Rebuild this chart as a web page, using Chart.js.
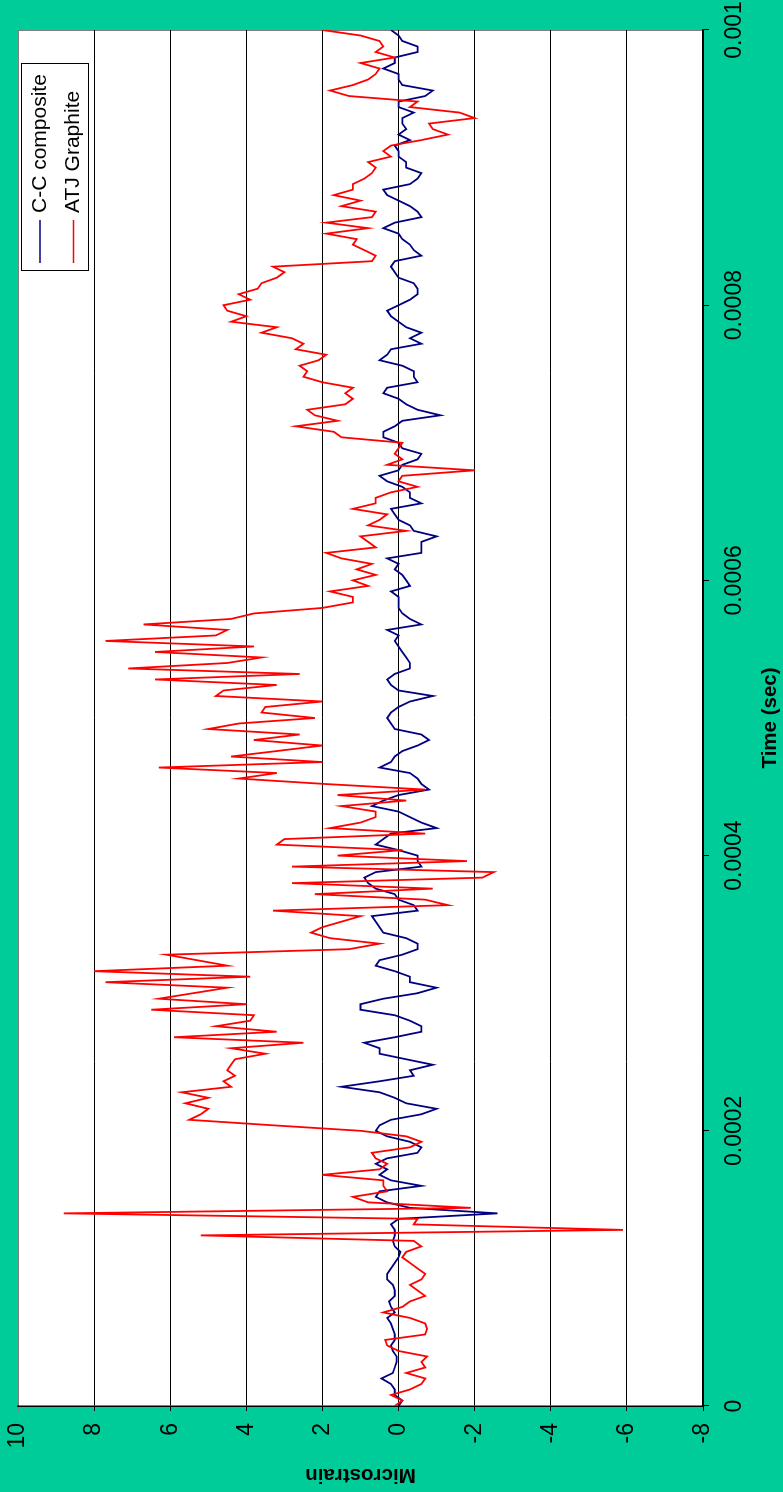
<!DOCTYPE html>
<html>
<head>
<meta charset="utf-8">
<script src="https://cdn.jsdelivr.net/npm/chart.js@4.4.1/dist/chart.umd.min.js"></script>
<style>
  html, body { margin: 0; padding: 0; overflow: hidden; background: #00cc99; width: 783px; height: 1492px; }
  /* chart is laid out landscape, then turned a quarter left like the original */
  #wrap { position: absolute; left: 0; top: 0; width: 1492px; height: 783px;
          transform-origin: 0 0; transform: translate(0, 1492px) rotate(-90deg); }
</style>
</head>
<body>
<div id="wrap"><canvas id="strainChart" width="1492" height="783"></canvas></div>
<script>
const SAMPLE_STEP = 0.000004;

const timeTicks = [0, 0.0002, 0.0004, 0.0006, 0.0008, 0.001];
const strainTicks = [-8, -6, -4, -2, 0, 2, 4, 6, 8, 10];

const ccComposite = [
  0.0, -0.1, 0.1, 0.1, 0.2, 0.45, 0.15, 0.1, 0.05, 0.05,
  0.15, 0.2, 0.1, 0.1, 0.15, 0.2, 0.3, 0.1, 0.2, 0.25,
  0.1, 0.1, 0.15, 0.3, 0.3, 0.2, 0.1, 0.0, -0.05, 0.1,
  0.15, 0.1, 0.1, 0.2, 0.0, -2.6, -0.3, 0.3, 0.6, 0.5,
  -0.6, 0.2, 0.5, 0.3, 0.6, 0.3, -0.5, -0.6, -0.3, 0.3,
  0.6, 0.5, 0.2, -0.6, -1.0, -0.2, 0.1, 0.5, 1.5, 0.5,
  -0.4, -0.3, -0.9, -0.2, 0.5, 0.5, 0.9, 0.1, -0.6, -0.6,
  -0.3, 0.1, 1.0, 1.0, 0.4, -0.5, -1.0, -0.3, -0.3, 0.1,
  0.6, 0.5, -0.1, -0.5, -0.5, -0.2, 0.4, 0.5, 0.6, 0.7,
  -0.5, -0.4, 0.0, 0.1, 0.6, 0.8, 0.9, 0.6, -0.6, -0.5,
  -0.5, 0.0, 0.6, 0.4, 0.2, -1.0, -0.6, -0.3, 0.0, 0.7,
  0.4, 0.0, -0.8, -0.6, -0.5, -0.3, 0.5, 0.2, 0.1, -0.1,
  -0.5, -0.8, -0.6, 0.1, 0.2, 0.3, 0.2, 0.0, -0.3, -0.9,
  0.0, 0.2, 0.3, 0.1, -0.3, -0.3, -0.2, -0.1, 0.0, 0.1,
  0.0, 0.3, -0.6, -0.3, -0.1, 0.0, 0.0, 0.0, 0.2, -0.3,
  -0.2, -0.1, 0.1, 0.0, 0.3, -0.6, -0.6, -0.6, -1.0, -0.4,
  -0.3, 0.0, 0.1, 0.2, -0.6, -0.3, -0.3, -0.1, 0.3, 0.5,
  0.0, -0.1, -0.5, -0.6, -0.1, 0.0, 0.4, 0.4, 0.1, -0.1,
  -1.1, -0.5, -0.2, 0.0, 0.4, 0.3, -0.5, -0.4, -0.4, -0.1,
  0.5, 0.3, 0.2, -0.6, -0.3, -0.6, -0.2, 0.0, 0.2, 0.3,
  0.0, -0.3, -0.5, -0.5, -0.4, 0.0, 0.1, 0.2, 0.1, -0.6,
  -0.4, -0.3, -0.1, 0.0, 0.4, 0.1, -0.6, -0.5, -0.3, 0.0,
  0.3, 0.4, -0.3, -0.5, -0.6, -0.2, -0.2, 0.0, 0.0, 0.1,
  -0.3, 0.0, -0.2, -0.1, -0.1, -0.4, 0.0, 0.0, -0.7, -0.9,
  -0.1, 0.0, 0.0, 0.4, 0.1, 0.1, -0.5, -0.5, -0.1, 0.0,
  0.2
];

const atjGraphite = [
  0.1, -0.1, 0.2, -0.3, -0.6, -0.7, -0.2, -0.7, -0.6, -0.75,
  0.0, 0.3, 0.35, -0.7, -0.75, -0.7, -0.3, 0.4, -0.1, -0.3,
  -0.7, -0.5, -0.3, -0.6, -0.7, -0.5, -0.3, -0.1, -0.2, -0.6,
  -0.4, 5.2, -5.9, -0.4, -0.5, 8.8, -1.9, 0.8, 1.2, 0.3,
  0.4, 0.4, 2.0, 0.5, 0.3, 0.6, 0.7, -0.3, -0.6, -0.2,
  1.0, 3.3, 5.5, 5.2, 5.0, 5.6, 5.0, 5.7, 4.4, 4.6,
  4.3, 4.5, 4.4, 4.3, 3.5, 4.4, 2.5, 5.9, 3.2, 4.8,
  3.9, 3.8, 6.5, 4.0, 6.3, 5.4, 4.5, 7.7, 3.9, 8.0,
  4.5, 5.3, 6.1, 1.3, 0.5, 1.8, 2.3, 2.0, 1.5, 1.0,
  3.3, -1.3, -0.7, 2.2, -0.9, 2.8, -2.2, -2.5, 2.8, -1.8,
  1.6, -0.1, 3.2, 3.0, -0.7, 1.8, 1.0, 0.6, 0.6, 1.5,
  -0.2, 1.6, -0.7, 1.9, 4.2, 3.2, 6.3, 2.0, 4.4, 3.2,
  2.0, 3.8, 2.6, 5.0, 4.2, 2.2, 3.6, 3.5, 2.0, 4.8,
  4.6, 3.2, 6.4, 2.6, 7.1, 4.5, 3.6, 6.4, 3.8, 7.7,
  4.8, 4.5, 6.7, 4.4, 3.8, 2.0, 1.2, 1.2, 1.8, 0.8,
  1.2, 0.6, 1.1, 0.7, 1.5, 1.9, 0.6, 0.8, 1.0, -0.2,
  0.8, 0.5, 0.3, 1.2, 0.6, 0.6, 0.2, -0.5, 0.0, -0.1,
  -2.0, 0.3, -0.1, 0.1, 0.0, -0.1, 1.5, 1.7, 2.7, 1.6,
  2.2, 2.4, 1.4, 1.2, 1.4, 1.2, 2.0, 2.5, 2.4, 2.6,
  2.1, 1.9, 2.7, 2.5, 2.8, 3.6, 3.2, 4.4, 4.0, 4.5,
  4.6, 3.9, 4.2, 3.7, 3.6, 3.2, 3.0, 3.3, 0.7, 0.6,
  0.9, 1.2, 1.1, 1.9, 0.8, 1.9, 0.7, 0.6, 1.5, 1.0,
  1.7, 1.2, 1.2, 0.9, 0.7, 0.6, 0.8, 0.2, 0.4, 0.2,
  -0.6, -1.3, -0.9, -0.8, -2.0, -1.6, -0.3, -0.5, 1.3, 1.8,
  1.2, 0.8, 0.6, 0.5, 1.0, 0.1, 0.6, 0.4, 0.5, 1.0,
  2.0
];

const toPoints = arr => arr.map((v, i) => ({ x: i * SAMPLE_STEP, y: v }));

Chart.defaults.font.family = "'Liberation Sans', Arial, sans-serif";
Chart.defaults.color = '#000';

// keep the plot box where the original has it: no extra room for label overhang
const noOverhang = s => {
  s.paddingTop = 0;
  s.paddingBottom = 0;
  s.paddingLeft = 0;
  s.paddingRight = 0;
};

// white plot area + grey frame on the far edges
const plotFrame = {
  id: 'plotFrame',
  beforeDraw(chart) {
    const { ctx, chartArea: a } = chart;
    ctx.save();
    ctx.fillStyle = '#ffffff';
    ctx.fillRect(a.left, a.top, a.right - a.left, a.bottom - a.top);
    ctx.strokeStyle = '#808080';
    ctx.lineWidth = 1;
    ctx.beginPath();
    ctx.moveTo(a.left, a.top + 0.5);
    ctx.lineTo(a.right - 0.5, a.top + 0.5);
    ctx.lineTo(a.right - 0.5, a.bottom);
    ctx.stroke();
    ctx.restore();
  }
};

// Excel-style boxed legend sitting inside the plot
const boxedLegend = {
  id: 'boxedLegend',
  afterDraw(chart) {
    const { ctx, chartArea: a } = chart;
    const x0 = a.right - 241, y0 = a.top + 3, w = 207, h = 67;
    ctx.save();
    ctx.fillStyle = '#ffffff';
    ctx.fillRect(x0, y0, w, h);
    ctx.strokeStyle = '#000';
    ctx.lineWidth = 1;
    ctx.strokeRect(x0 + 0.5, y0 + 0.5, w, h);
    ctx.font = "21px 'Liberation Sans', Arial, sans-serif";
    ctx.textBaseline = 'middle';
    const entries = [chart.data.datasets[1], chart.data.datasets[0]];
    entries.forEach((ds, k) => {
      const y = y0 + 19 + k * 33.5;
      ctx.strokeStyle = ds.borderColor;
      ctx.lineWidth = 1.5;
      ctx.beginPath();
      ctx.moveTo(x0 + 8, y);
      ctx.lineTo(x0 + 51, y);
      ctx.stroke();
      ctx.fillStyle = '#000';
      ctx.fillText(ds.label, x0 + 58, y);
    });
    ctx.restore();
  }
};

const ctx = document.getElementById('strainChart').getContext('2d');
new Chart(ctx, {
  type: 'line',
  data: {
    datasets: [
      {
        label: 'ATJ Graphite',
        data: toPoints(atjGraphite),
        borderColor: '#ff0000',
        borderWidth: 1.8,
        pointRadius: 0,
        tension: 0,
        fill: false
      },
      {
        label: 'C-C composite',
        data: toPoints(ccComposite),
        borderColor: '#000080',
        borderWidth: 1.8,
        pointRadius: 0,
        tension: 0,
        fill: false
      }
    ]
  },
  options: {
    responsive: false,
    animation: false,
    layout: { padding: { top: 18, right: 30, left: 0, bottom: 0 } },
    plugins: {
      legend: { display: false },
      tooltip: { enabled: false }
    },
    scales: {
      x: {
        type: 'linear',
        min: 0,
        max: 0.001,
        afterFit: s => { s.height = 80; noOverhang(s); },
        afterBuildTicks: s => { s.ticks = timeTicks.map(v => ({ value: v })); },
        grid: { drawOnChartArea: false, drawTicks: true, tickLength: 6, color: '#000' },
        border: { display: true, color: '#000', width: 1.5 },
        ticks: {
          font: { size: 23 },
          padding: 12,
          maxRotation: 0,
          autoSkip: false,
          callback: v => String(v)
        },
        title: {
          display: true,
          text: 'Time (sec)',
          font: { size: 20.5, weight: 'bold' },
          padding: { top: 0, bottom: 0 }
        }
      },
      y: {
        min: -8,
        max: 10,
        afterFit: s => { s.width = 86; noOverhang(s); },
        afterBuildTicks: s => { s.ticks = strainTicks.map(v => ({ value: v })); },
        grid: {
          color: c => (c.tick && c.tick.value === 10 ? '#808080' : '#000'),
          lineWidth: 1,
          tickLength: 5
        },
        border: { display: true, color: '#000', width: 1.5 },
        ticks: {
          font: { size: 23 },
          padding: 12,
          autoSkip: false,
          callback: v => String(v)
        },
        title: {
          display: true,
          text: 'Microstrain',
          font: { size: 20.5, weight: 'bold' },
          padding: { top: 5, bottom: 0 }
        }
      }
    }
  },
  plugins: [plotFrame, boxedLegend]
});
</script>
</body>
</html>
